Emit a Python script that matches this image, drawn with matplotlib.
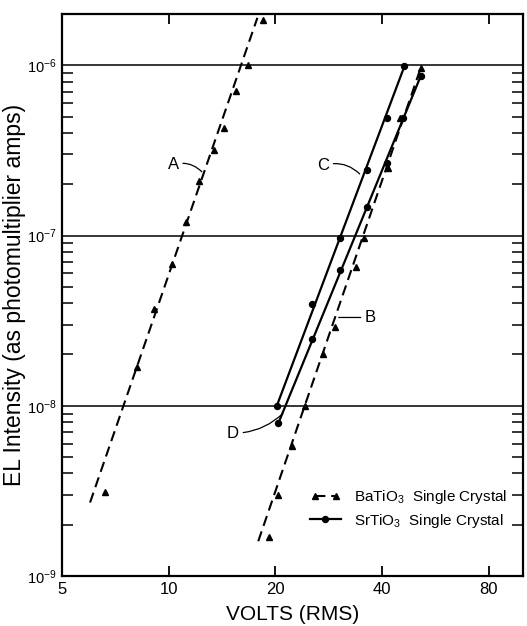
import matplotlib
matplotlib.use("Agg")
import matplotlib.pyplot as plt
from matplotlib.ticker import FixedLocator, LogLocator, NullLocator, FixedFormatter
from matplotlib.legend_handler import HandlerLine2D
from matplotlib.lines import Line2D

plt.rcParams['font.family'] = ['Liberation Sans', 'DejaVu Sans']
plt.rcParams['mathtext.fontset'] = 'custom'
plt.rcParams['mathtext.rm'] = 'Liberation Sans'
plt.rcParams['mathtext.it'] = 'Liberation Sans'

# curve A - BaTiO3 (dashed, triangles)
a_volts = [6.6, 8.15, 9.1, 10.2, 11.2, 12.2, 13.4, 14.35, 15.5, 16.7, 18.5]
a_amps = [3.1e-9, 1.7e-8, 3.7e-8, 6.8e-8, 1.2e-7, 2.1e-7, 3.2e-7, 4.3e-7, 7.1e-7, 1.0e-6, 1.85e-6]
a_fit_volts = [6.0, 17.8]
a_fit_amps = [2.7e-9, 1.9e-6]

# curve B - BaTiO3 (dashed, triangles)
b_volts = [19.2, 20.4, 22.3, 24.2, 27.3, 29.4, 33.7, 35.5, 41.5, 45.1, 51.4]
b_amps = [1.7e-9, 3.0e-9, 5.8e-9, 1.0e-8, 2.0e-8, 2.9e-8, 6.5e-8, 9.7e-8, 2.5e-7, 4.9e-7, 9.6e-7]
b_fit_volts = [17.9, 51.4]
b_fit_amps = [1.6e-9, 9.6e-7]

# curve C - SrTiO3 (solid, circles)
c_volts = [20.2, 25.4, 30.5, 36.2, 41.2, 46.3]
c_amps = [1.0e-8, 3.95e-8, 9.7e-8, 2.43e-7, 4.9e-7, 9.9e-7]

# curve D - SrTiO3 (solid, circles)
d_volts = [20.4, 25.4, 30.5, 36.2, 41.2, 46.0, 51.4]
d_amps = [7.9e-9, 2.47e-8, 6.3e-8, 1.48e-7, 2.67e-7, 4.9e-7, 8.6e-7]

x_ticks = [5, 10, 20, 40, 80]
y_ticks = [1e-9, 1e-8, 1e-7, 1e-6]
y_ticklabels = [r'$10^{-9}$', r'$10^{-8}$', r'$10^{-7}$', r'$10^{-6}$']

DASH = (0, (5, 2.8))

fig = plt.figure(figsize=(5.27, 6.26), dpi=100)
ax = fig.add_axes([0.1176, 0.0799, 0.8748, 0.8977])
ax.set_xscale('log')
ax.set_yscale('log')
ax.set_xlim(5, 100)
ax.set_ylim(1e-9, 2e-6)

for y in y_ticks[1:]:
    ax.axhline(y, color='black', lw=1.1, zorder=1)

ax.plot(a_fit_volts, a_fit_amps, color='black', lw=1.5, ls=DASH, zorder=2)
ax.plot(a_volts, a_amps, '^', color='black', ms=4.5, zorder=3)
ax.plot(b_fit_volts, b_fit_amps, color='black', lw=1.5, ls=DASH, zorder=2)
ax.plot(b_volts, b_amps, '^', color='black', ms=4.5, zorder=3)
ax.plot([c_volts[0], c_volts[-1]], [c_amps[0], c_amps[-1]], color='black', lw=1.6, zorder=2)
ax.plot(c_volts, c_amps, 'o', color='black', ms=4.3, zorder=3)
ax.plot([d_volts[0], d_volts[-1]], [d_amps[0], d_amps[-1]], color='black', lw=1.6, zorder=2)
ax.plot(d_volts, d_amps, 'o', color='black', ms=4.3, zorder=3)

# curve labels with leader lines
lead = dict(arrowstyle='-', color='black', lw=0.9, shrinkA=1, shrinkB=0)
ax.annotate('A', xy=(12.4, 2.37e-7), xytext=(10.3, 2.6e-7), fontsize=12, va='center', ha='center',
            arrowprops=dict(lead, connectionstyle='arc3,rad=-0.3'))
ax.annotate('C', xy=(34.6, 2.3e-7), xytext=(27.3, 2.57e-7), fontsize=12, va='center', ha='center',
            arrowprops=dict(lead, connectionstyle='arc3,rad=-0.3'))
ax.annotate('B', xy=(30.2, 3.3e-8), xytext=(37.1, 3.3e-8), fontsize=12, va='center', ha='center',
            arrowprops=dict(lead, connectionstyle='arc3,rad=0'))
ax.annotate('D', xy=(21.0, 9.0e-9), xytext=(15.2, 6.9e-9), fontsize=12, va='center', ha='center',
            arrowprops=dict(lead, connectionstyle='arc3,rad=0.2'))

# axis ticks
ax.xaxis.set_major_locator(FixedLocator(x_ticks))
ax.xaxis.set_major_formatter(FixedFormatter([str(v) for v in x_ticks]))
ax.xaxis.set_minor_locator(NullLocator())
ax.yaxis.set_major_locator(FixedLocator(y_ticks))
ax.yaxis.set_major_formatter(FixedFormatter(y_ticklabels))
ax.yaxis.set_minor_locator(LogLocator(base=10, subs=range(2, 10)))
ax.tick_params(axis='x', which='major', direction='in', top=True, bottom=True,
               length=7, width=1.3, labelsize=12, pad=4)
ax.tick_params(axis='y', which='major', length=0, labelsize=10.5, pad=4)
ax.tick_params(axis='y', which='minor', direction='in', left=True, right=True,
               length=8, width=1.1)
for s in ax.spines.values():
    s.set_linewidth(1.6)

ax.set_xlabel('VOLTS (RMS)', fontsize=15, labelpad=6)
ax.set_ylabel('EL Intensity (as photomultiplier amps)', fontsize=16.5)
ax.yaxis.set_label_coords(-0.077, 0.5)

# legend
h_ba = Line2D([], [], color='black', lw=1.5, ls=DASH, marker='^', ms=4.5)
h_sr = Line2D([], [], color='black', lw=1.6, marker='o', ms=4.3)
ax.legend([h_ba, h_sr], [r'BaTiO$_3$  Single Crystal', r'SrTiO$_3$  Single Crystal'],
          handler_map={h_ba: HandlerLine2D(numpoints=2), h_sr: HandlerLine2D(numpoints=1)},
          loc='center left', bbox_to_anchor=(0.538, 0.119), frameon=False, fontsize=11,
          handlelength=2.0, handletextpad=0.85, labelspacing=0.35, borderpad=0, borderaxespad=0)

fig.savefig('out.png', dpi=100)
